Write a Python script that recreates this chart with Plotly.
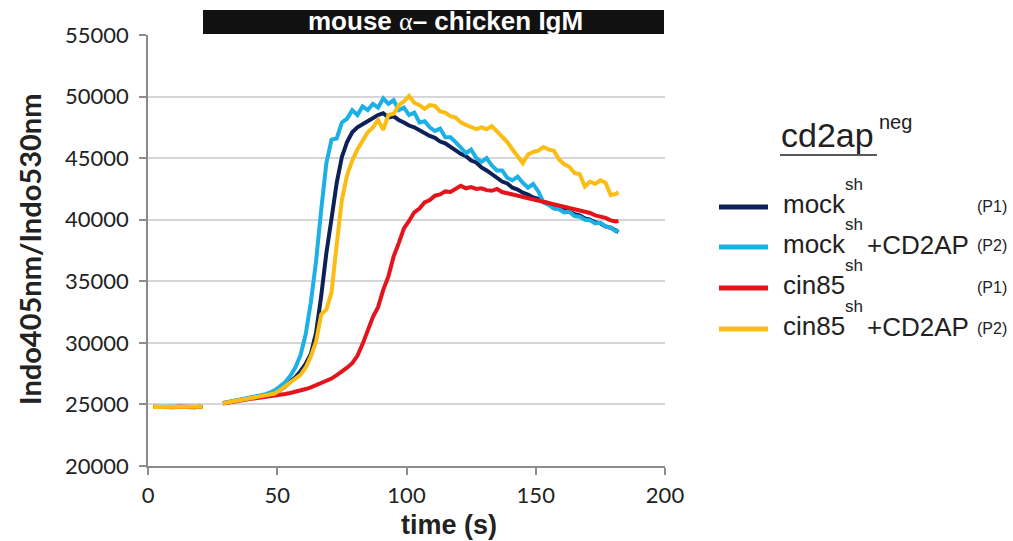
import plotly.graph_objects as go

# ---- data -----------------------------------------------------------------
TIME_S = [2, 4, 6, 8, 10, 12, 14, 16, 18, 20, 21,
          25,
          29, 31, 33, 35, 37, 39, 41, 43, 45, 47,
          49, 51, 53, 55, 57, 59, 61, 63, 65, 67,
          69, 71, 73, 75, 77, 79, 81, 83, 85, 87,
          89, 91, 93, 95, 97, 99, 101, 103, 105, 107,
          109, 111, 113, 115, 117, 119, 121, 123, 125, 127,
          129, 131, 133, 135, 137, 139, 141, 143, 145, 147,
          149, 151, 153, 155, 157, 159, 161, 163, 165, 167,
          169, 171, 173, 175, 177, 179, 181, 182]

MOCK_SH = [24800, 24780, 24810, 24790, 24800, 24820, 24790, 24800, 24780, 24810, 24800,
           None,
           25100, 25180, 25260, 25330, 25400, 25470, 25550, 25620, 25720, 25830,
           25950, 26150, 26450, 26800, 27200, 27700, 28300, 29100, 30800, 33800,
           37300, 40100, 43000, 45100, 46300, 47100, 47500, 47750, 48000, 48250,
           48500, 48650, 48300, 48400, 48100, 47900, 47650, 47500, 47250, 47050,
           46800, 46650, 46350, 46200, 45900, 45700, 45350, 45150, 44800, 44650,
           44250, 44000, 43700, 43450, 43100, 42950, 42600, 42450, 42200, 42050,
           41800, 41700, 41450, 41350, 41100, 41000, 40750, 40650, 40450, 40350,
           40100, 40000, 39800, 39700, 39450, 39350, 39100, 39000]

MOCK_SH_CD2AP = [24790, 24810, 24800, 24780, 24810, 24790, 24800, 24820, 24790, 24800, 24790,
                 None,
                 25120, 25200, 25280, 25350, 25430, 25500, 25580, 25680, 25800, 25950,
                 26150, 26450, 26800, 27300, 28000, 29000, 30700, 33300, 36600, 40800,
                 44600, 46500, 46600, 47900, 48200, 48900, 48500, 49200, 48900, 49400,
                 49100, 49850, 49400, 49700, 48900, 49100, 48500, 48700, 47900, 48000,
                 47500, 47200, 47400, 46700, 46700, 46300, 45800, 45400, 45700, 45000,
                 44700, 45000, 44400, 44000, 44000, 43400, 43200, 43500, 43000, 42600,
                 42900, 42300, 41400, 41200, 40900, 40850, 40600, 40650, 40300, 40250,
                 40000, 39950, 39700, 39750, 39450, 39350, 39050, 39200]

CIN85_SH = [24810, 24790, 24800, 24800, 24780, 24810, 24800, 24790, 24810, 24790, 24800,
            None,
            25080, 25160, 25240, 25300, 25370, 25430, 25490, 25540, 25590, 25650,
            25700, 25780, 25850, 25930, 26020, 26130, 26250, 26380, 26550, 26720,
            26900, 27100, 27380, 27650, 27980, 28350, 28950, 29900, 31000, 32100,
            32900, 34300, 35400, 37000, 38100, 39300, 39900, 40600, 40900, 41400,
            41600, 41950, 42050, 42300, 42250, 42500, 42750, 42550, 42650, 42500,
            42550, 42400, 42350, 42500, 42250, 42150, 42050, 41900, 41800, 41750,
            41600, 41550, 41450, 41300, 41250, 41150, 41000, 40950, 40800, 40750,
            40600, 40550, 40350, 40250, 40150, 39950, 39850, 39900]

CIN85_SH_CD2AP = [24800, 24800, 24790, 24810, 24790, 24800, 24780, 24810, 24800, 24790, 24810,
                  None,
                  25090, 25170, 25250, 25320, 25400, 25460, 25530, 25600, 25680, 25770,
                  25880, 26150, 26450, 26750, 27050, 27400, 28000, 28900, 30100, 32300,
                  32700, 34100, 38000, 41600, 43600, 44800, 45700, 46400, 47100, 47500,
                  48100, 47300, 48500, 48600, 49300, 49600, 50050, 49500, 49300, 49000,
                  49300, 49250, 48800, 48700, 48400, 48300, 47900, 47700, 47500, 47350,
                  47500, 47350, 47600, 47200, 46700, 46300, 45700, 45200, 44600, 45300,
                  45500, 45600, 45900, 45700, 45600, 44900, 44500, 44300, 43800, 43700,
                  42700, 43100, 42900, 43200, 43000, 42000, 42100, 42250]

X_TICKS = [0, 50, 100, 150, 200]
Y_TICKS = [20000, 25000, 30000, 35000, 40000, 45000, 50000, 55000]

# series: (values, colour, base label, suffix, passage)
SERIES = [
    (MOCK_SH, "#0c2157", "mock", "", "(P1)"),
    (MOCK_SH_CD2AP, "#1bb0e6", "mock", "+CD2AP", "(P2)"),
    (CIN85_SH, "#e3141b", "cin85", "", "(P1)"),
    (CIN85_SH_CD2AP, "#fbbd14", "cin85", "+CD2AP", "(P2)"),
]

# ---- figure geometry (pixels) ---------------------------------------------
W, H = 1013, 541
L, R, T, B = 148, 665, 35, 466


def px(x):
    return (x - L) / (R - L)


def py(y):
    return (B - y) / (B - T)


fig = go.Figure()
for vals, col, name, suffix, tag in SERIES:
    fig.add_trace(go.Scatter(
        x=TIME_S, y=vals, mode="lines",
        line=dict(color=col, width=4),
        connectgaps=False, showlegend=False,
        hoverinfo="skip",
    ))

AX_COL = "#8c8c8c"
fig.update_layout(
    width=W, height=H,
    margin=dict(l=L, r=W - R, t=T, b=H - B, pad=0),
    paper_bgcolor="white", plot_bgcolor="white",
    xaxis=dict(
        range=[0, 200], tickvals=X_TICKS, showgrid=False, zeroline=False,
        showline=True, linecolor=AX_COL, linewidth=1.5,
        ticks="outside", ticklen=7, tickcolor=AX_COL, tickwidth=1.5,
        tickfont=dict(family="Lato", size=22, color="#222"),
        ticklabelstandoff=2,
    ),
    yaxis=dict(
        range=[20000, 55000], tickvals=Y_TICKS, tickformat="d",
        showgrid=True, gridcolor="#d6d6d6", gridwidth=2, zeroline=False,
        showline=True, linecolor=AX_COL, linewidth=1.5,
        ticks="outside", ticklen=7, tickcolor=AX_COL, tickwidth=1.5,
        tickfont=dict(family="Lato", size=22, color="#222"),
        ticklabelstandoff=6,
    ),
)

shapes = []
annotations = []

# title bar above the plot
shapes.append(dict(type="rect", xref="paper", yref="paper",
                   x0=px(203), x1=px(664), y0=py(34), y1=py(10),
                   fillcolor="#111111", line=dict(width=0), layer="above"))
annotations.append(dict(
    xref="paper", yref="paper", x=px(445), y=py(21),
    xanchor="center", yanchor="middle", showarrow=False,
    text=("<b>mouse <span style='font-family:Liberation Serif;font-weight:normal'>α</span>"
          "– chicken IgM</b>"),
    font=dict(family="Liberation Sans, Arial", size=26, color="white"),
))

# axis titles
annotations.append(dict(
    xref="paper", yref="paper", x=px(449), y=py(525),
    xanchor="center", yanchor="middle", showarrow=False,
    text="<b>time (s)</b>",
    font=dict(family="Liberation Sans, Arial", size=27, color="#222"),
))
annotations.append(dict(
    xref="paper", yref="paper", x=px(29), y=py(250),
    xanchor="center", yanchor="middle", showarrow=False, textangle=-90,
    text="<b>Indo405nm/Indo530nm</b>",
    font=dict(family="Lato", size=29, color="#222"),
))

# legend block
LEG_FONT = "Liberation Sans, Arial"
LEG_COL = "#222"
annotations.append(dict(
    xref="paper", yref="paper", x=px(779), y=py(156),
    xanchor="left", yanchor="bottom", showarrow=False,
    text="cd2ap", font=dict(family=LEG_FONT, size=34, color=LEG_COL),
))
annotations.append(dict(
    xref="paper", yref="paper", x=px(877), y=py(122),
    xanchor="left", yanchor="middle", showarrow=False,
    text="neg", font=dict(family=LEG_FONT, size=20, color=LEG_COL),
))
shapes.append(dict(type="line", xref="paper", yref="paper",
                   x0=px(780), x1=px(877), y0=py(155), y1=py(155),
                   line=dict(color=LEG_COL, width=1.5)))

ROW_Y = [207, 247, 288, 329]
for (vals, col, name, suffix, tag), ry in zip(SERIES, ROW_Y):
    shapes.append(dict(type="line", xref="paper", yref="paper",
                       x0=px(719), x1=px(768), y0=py(ry), y1=py(ry),
                       line=dict(color=col, width=5)))
    annotations.append(dict(
        xref="paper", yref="paper", x=px(781), y=py(ry - 3),
        xanchor="left", yanchor="middle", showarrow=False,
        text=name, font=dict(family=LEG_FONT, size=26, color=LEG_COL),
    ))
    annotations.append(dict(
        xref="paper", yref="paper", x=px(844), y=py(ry - 23),
        xanchor="left", yanchor="middle", showarrow=False, borderpad=0,
        text="sh", font=dict(family=LEG_FONT, size=17, color=LEG_COL),
    ))
    if suffix:
        annotations.append(dict(
            xref="paper", yref="paper", x=px(866), y=py(ry - 2),
            xanchor="left", yanchor="middle", showarrow=False, borderpad=0,
            text=suffix, font=dict(family=LEG_FONT, size=26, color=LEG_COL),
        ))
    annotations.append(dict(
        xref="paper", yref="paper", x=px(1009), y=py(ry - 1),
        xanchor="right", yanchor="middle", showarrow=False,
        text=tag, font=dict(family=LEG_FONT, size=16, color=LEG_COL),
    ))

fig.update_layout(shapes=shapes, annotations=annotations)
fig.write_html("out.html")
